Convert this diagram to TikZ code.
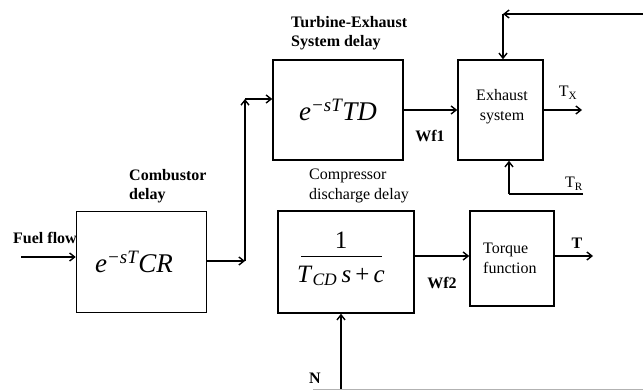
\documentclass[tikz,border=0pt]{standalone}
\usepackage{fontspec}
\setmainfont{Liberation Serif}
\usetikzlibrary{arrows.meta}
\begin{document}
\begin{tikzpicture}[x=1pt,y=-1pt,
  blk/.style={draw,line width=1.6pt,inner sep=0pt},
  conn/.style={line width=1.5pt,-{Straight Barb[length=5pt,width=8pt,line width=1.4pt]}},
  plain/.style={line width=1.5pt},
  lbl/.style={font=\fontsize{16}{19.5}\selectfont\bfseries,inner sep=0pt,align=left},
  txt/.style={font=\fontsize{16}{20}\selectfont,inner sep=0pt,align=left},
  mth/.style={font=\fontsize{27}{29}\selectfont\itshape,inner sep=0pt}]
\useasboundingbox (0,0) rectangle (643,390);
% blocks
\node[blk,minimum width=130pt,minimum height=101pt] (CR) at (141.5,262) {};
\node[mth] (crt) at (134,262) {e\textsuperscript{−sT}CR};
\node[blk,minimum width=130pt,minimum height=100pt] (TD) at (338,110) {};
\node[mth] (tdt) at (338,110) {e\textsuperscript{−sT}TD};
\node[blk,minimum width=85pt,minimum height=100pt] (EX) at (500.5,110) {};
\node[txt,align=center] (ext) at (502,107) {Exhaust\\system};
\node[blk,minimum width=136pt,minimum height=102pt] (CD) at (346,262) {};
\node[inner sep=0pt,font=\fontsize{25}{27}\selectfont] (one) at (341,240) {1};
\node[inner sep=0pt,font=\fontsize{25}{27}\selectfont] (den) at (341,276) {\textit{T}\textsubscript{\textit{CD}}\,\textit{s}\,+\,\textit{c}};
\draw[line width=1pt] (301,257) -- (382,257);
\node[blk,minimum width=84pt,minimum height=95pt] (TQ) at (512,258.5) {};
\node[txt,anchor=west] (tqt) at (483,258) {Torque\\function};
% labels
\node[lbl,anchor=west] (ff) at (13,238) {Fuel flow};
\node[lbl,anchor=west] (cdl) at (129,186) {Combustor\\delay};
\node[lbl,anchor=west] (ted) at (291,33) {Turbine-Exhaust\\System delay};
\node[txt,anchor=west] (cdd) at (309,186) {Compressor\\discharge delay};
\node[lbl] (wf1) at (430,136) {Wf1};
\node[lbl] (wf2) at (442,283) {Wf2};
\node[txt] (tx) at (568,93) {T\textsubscript{X}};
\node[txt] (tr) at (574,184) {T\textsubscript{R}};
\node[lbl] (tl) at (577,243) {T};
\node[lbl] (nl) at (315,378) {N};
% connectors
\coordinate (fin) at (21,257);
\draw[conn] (fin) -- (fin -| CR.west);
\coordinate (j1) at (245,261);
\draw[conn] (CR.east |- j1) -- (j1);
\coordinate (j2) at (245,99);
\draw[conn] (j1) -- (j2);
\draw[conn] (j2) -- (j2 -| TD.west);
\draw[conn] (TD.east) -- (EX.west);
\coordinate (txo) at (582,110);
\draw[conn] (EX.east) -- (txo);
\coordinate (fbs) at (643,14);
\coordinate (fbc) at (503,14);
\draw[conn] (fbs) -- (fbc);
\draw[conn] (fbc) -- (fbc |- EX.north);
\coordinate (trs) at (583,194);
\coordinate (trc) at (509,194);
\draw[plain] (trs) -- (trc);
\draw[conn] (trc) -- (trc |- EX.south);
\coordinate (cdy) at (0,256);
\draw[conn] (CD.east |- cdy) -- (TQ.west |- cdy);
\coordinate (to) at (593,256);
\draw[conn] (TQ.east |- to) -- (to);
\coordinate (ns) at (341,390);
\draw[conn] (ns) -- (ns |- CD.south);
\coordinate (gl1) at (313,389);
\coordinate (gl2) at (643,389);
\draw[gray!60,line width=0.8pt] (gl1) -- (gl2);
\end{tikzpicture}
\end{document}
